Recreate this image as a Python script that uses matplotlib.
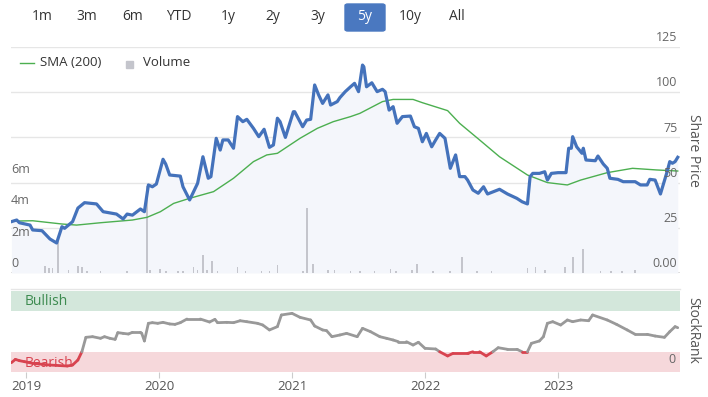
import numpy as np
import matplotlib
matplotlib.use("Agg")
import matplotlib.pyplot as plt
from matplotlib.patches import FancyBboxPatch
from matplotlib.collections import LineCollection

plt.rcParams['font.family'] = ['Open Sans', 'DejaVu Sans']

# share price (decimal year, price)
price_t = [2018.89, 2018.93, 2018.95, 2019.03, 2019.05, 2019.12, 2019.18, 2019.23, 2019.27, 2019.29,
           2019.35, 2019.39, 2019.44, 2019.53, 2019.58, 2019.68, 2019.73, 2019.76, 2019.80, 2019.86,
           2019.89, 2019.92, 2019.95, 2019.98, 2020.03, 2020.05, 2020.08, 2020.16, 2020.18, 2020.23,
           2020.29, 2020.33, 2020.37, 2020.39, 2020.43, 2020.46, 2020.48, 2020.52, 2020.56, 2020.59,
           2020.63, 2020.66, 2020.71, 2020.75, 2020.79, 2020.83, 2020.86, 2020.89, 2020.91, 2020.95,
           2021.01, 2021.02, 2021.08, 2021.11, 2021.14, 2021.17, 2021.20, 2021.23, 2021.27, 2021.29,
           2021.34, 2021.36, 2021.40, 2021.44, 2021.47, 2021.50, 2021.53, 2021.54, 2021.56, 2021.60,
           2021.64, 2021.68, 2021.70, 2021.73, 2021.76, 2021.79, 2021.83, 2021.89, 2021.92, 2021.95,
           2021.98, 2022.01, 2022.05, 2022.08, 2022.11, 2022.15, 2022.19, 2022.23, 2022.26, 2022.30,
           2022.32, 2022.36, 2022.40, 2022.44, 2022.47, 2022.56, 2022.62, 2022.69, 2022.73, 2022.77,
           2022.79, 2022.81, 2022.86, 2022.90, 2022.92, 2022.95, 2023.00, 2023.06, 2023.08, 2023.10,
           2023.11, 2023.14, 2023.18, 2023.19, 2023.21, 2023.28, 2023.30, 2023.34, 2023.37, 2023.39,
           2023.45, 2023.49, 2023.58, 2023.62, 2023.67, 2023.69, 2023.73, 2023.77, 2023.82, 2023.84,
           2023.86, 2023.88, 2023.90]
price = [28.4, 29.3, 27.8, 26.5, 23.8, 23.4, 18.8, 16.6, 25.6, 24.7,
         28.4, 35.9, 38.9, 38.2, 33.9, 32.6, 29.9, 32.6, 32.0, 35.4,
         33.9, 48.7, 47.7, 49.2, 62.9, 60.3, 54.2, 53.6, 47.7, 40.4,
         49.6, 64.3, 52.4, 53.3, 74.5, 68.0, 73.6, 73.6, 69.0, 86.5,
         83.7, 85.0, 80.0, 75.4, 79.5, 69.5, 70.8, 85.6, 83.7, 75.0,
         89.2, 89.2, 80.9, 84.6, 85.0, 104.0, 98.5, 93.8, 98.5, 92.9,
         94.8, 97.0, 100.3, 103.0, 104.9, 100.3, 115.0, 114.0, 103.0, 105.2,
         100.3, 101.6, 100.3, 90.1, 92.0, 82.8, 86.5, 86.8, 80.9, 80.0,
         72.6, 77.2, 69.8, 73.6, 77.2, 74.5, 57.9, 65.3, 53.3, 53.3,
         51.4, 45.9, 44.1, 47.7, 43.7, 46.3, 43.7, 41.3, 39.4, 38.2,
         53.3, 55.1, 55.1, 56.0, 51.4, 55.1, 55.5, 55.5, 69.0, 69.0,
         75.4, 69.8, 66.2, 69.0, 62.5, 62.1, 64.7, 60.3, 57.9, 52.4,
         51.8, 50.5, 50.5, 48.7, 48.7, 51.8, 51.4, 43.7, 56.0, 61.6,
         60.7, 61.6, 64.0]

# SMA (200)
sma_t = [2018.89, 2019.05, 2019.27, 2019.38, 2019.56, 2019.80, 2019.91, 2020.01, 2020.11, 2020.23,
         2020.41, 2020.56, 2020.71, 2020.81, 2020.89, 2021.06, 2021.19, 2021.31, 2021.44, 2021.51,
         2021.68, 2021.76, 2021.91, 2021.98, 2022.17, 2022.26, 2022.41, 2022.56, 2022.77, 2022.92,
         2023.07, 2023.17, 2023.37, 2023.56, 2023.74, 2023.90]
sma = [28.7, 28.9, 27.1, 26.5, 27.8, 29.3, 30.8, 33.9, 38.5, 41.3,
       45.0, 52.4, 61.6, 65.3, 66.2, 74.5, 80.0, 83.7, 86.5, 88.3,
       94.8, 96.0, 96.0, 94.2, 89.8, 82.8, 73.6, 64.3, 54.2, 50.0,
       48.7, 51.4, 55.5, 57.9, 57.0, 56.4]

# volume (millions)
vol_t = [2019.14, 2019.17, 2019.20, 2019.24, 2019.32, 2019.39, 2019.42, 2019.46, 2019.56, 2019.76,
         2019.91, 2019.93, 2020.01, 2020.05, 2020.14, 2020.18, 2020.26, 2020.29, 2020.33, 2020.36,
         2020.40, 2020.44, 2020.59, 2020.65, 2020.77, 2020.83, 2020.89, 2021.08, 2021.11, 2021.16,
         2021.27, 2021.32, 2021.44, 2021.51, 2021.62, 2021.74, 2021.78, 2021.90, 2021.94, 2022.06,
         2022.19, 2022.28, 2022.39, 2022.50, 2022.77, 2022.83, 2022.90, 2023.05, 2023.11, 2023.19,
         2023.32, 2023.40, 2023.48, 2023.58]
vol = [0.45, 0.3, 0.3, 2.1, 0.2, 0.45, 0.35, 0.15, 0.1, 0.1,
       5.5, 0.2, 0.25, 0.15, 0.1, 0.1, 0.35, 0.2, 1.15, 0.2,
       0.75, 0.1, 0.35, 0.15, 0.15, 0.15, 0.5, 0.1, 4.1, 0.6,
       0.2, 0.2, 0.15, 0.15, 0.15, 0.25, 0.15, 0.2, 0.6, 0.1,
       0.1, 1.0, 0.1, 0.1, 0.3, 0.4, 0.2, 0.35, 1.0, 1.55,
       0.1, 0.1, 0.1, 0.2]

# StockRank
rank_t = [2018.89, 2018.92, 2018.95, 2018.99, 2019.05, 2019.18, 2019.31, 2019.35, 2019.39, 2019.42,
          2019.45, 2019.50, 2019.56, 2019.59, 2019.63, 2019.67, 2019.69, 2019.73, 2019.77, 2019.80,
          2019.86, 2019.87, 2019.89, 2019.92, 2019.95, 2019.99, 2020.03, 2020.08, 2020.12, 2020.16,
          2020.21, 2020.31, 2020.38, 2020.42, 2020.44, 2020.51, 2020.56, 2020.61, 2020.66, 2020.74,
          2020.78, 2020.83, 2020.89, 2020.92, 2021.00, 2021.06, 2021.14, 2021.17, 2021.23, 2021.26,
          2021.30, 2021.36, 2021.41, 2021.49, 2021.53, 2021.59, 2021.66, 2021.71, 2021.76, 2021.80,
          2021.86, 2021.91, 2021.95, 2022.00, 2022.08, 2022.11, 2022.17, 2022.21, 2022.32, 2022.36,
          2022.41, 2022.46, 2022.51, 2022.55, 2022.62, 2022.69, 2022.73, 2022.77, 2022.80, 2022.86,
          2022.89, 2022.92, 2022.96, 2023.02, 2023.07, 2023.11, 2023.17, 2023.23, 2023.26, 2023.37,
          2023.44, 2023.52, 2023.58, 2023.67, 2023.73, 2023.80, 2023.84, 2023.88, 2023.90]
rank = [11.5, 15.6, 14.0, 12.7, 10.7, 8.6, 7.4, 8.6, 14.8, 25.0,
        42.8, 43.6, 41.6, 43.6, 41.6, 40.3, 48.6, 47.7, 46.9, 49.0,
        49.0, 47.7, 38.3, 60.1, 60.9, 60.1, 61.3, 59.3, 58.8, 60.9,
        65.4, 65.4, 61.7, 65.0, 60.9, 61.3, 60.9, 63.3, 62.1, 60.1,
        58.0, 51.9, 56.0, 70.4, 72.4, 67.5, 64.2, 56.8, 51.9, 51.0,
        43.6, 45.7, 47.7, 43.6, 53.9, 49.8, 43.6, 41.6, 39.5, 37.4,
        37.4, 33.3, 36.7, 29.2, 28.4, 25.0, 19.8, 23.0, 23.0, 25.0,
        25.0, 19.8, 25.0, 30.0, 28.0, 28.0, 25.0, 25.0, 35.4, 38.3,
        43.6, 60.1, 62.1, 58.0, 64.2, 62.1, 64.2, 63.3, 70.4, 64.2,
        58.8, 51.9, 46.5, 46.5, 44.4, 42.8, 49.8, 56.0, 54.7]

years = [2019, 2020, 2021, 2022, 2023]
buttons = ["1m", "3m", "6m", "YTD", "1y", "2y", "3y", "5y", "10y", "All"]
button_x = [42, 87, 133, 179, 228, 273, 318, 365, 410, 457]

W, H = 708, 397
fig = plt.figure(figsize=(W / 100, H / 100), dpi=100)


def fx(x):
    return x / W


def fy(y):
    return 1 - y / H


x0, x1 = 2018.887, 2023.917
grey_txt = '#666666'

# main panel
rect = [fx(11), fy(273), fx(680) - fx(11), fy(47) - fy(273)]
ax = fig.add_axes(rect)
ax.set_xlim(x0, x1)
ax.set_ylim(0, 125)
ax.fill_between(price_t, price, 0, color='#f4f6fb', lw=0)
for v in [25, 50, 75, 100, 125]:
    ax.axhline(v, color='#e6e6e6', lw=1, zorder=0)
ax.axhline(0, color='#d8d8d8', lw=1.2, zorder=0)
ax.axis('off')

axv = fig.add_axes(rect)
axv.set_xlim(x0, x1)
axv.set_ylim(0, 14.35)
axv.bar(vol_t, vol, width=0.013, color='#c4c5cc', lw=0)
axv.axis('off')

axl = fig.add_axes(rect)
axl.set_xlim(x0, x1)
axl.set_ylim(0, 125)
axl.plot(sma_t, sma, color='#4caf50', lw=1)
axl.plot(price_t, price, color='#4472bb', lw=2.3, solid_joinstyle='round')
axl.axis('off')

for v, lab in zip([0, 25, 50, 75, 100, 125], ['0.00', '25', '50', '75', '100', '125']):
    axl.annotate(lab, (1, v), xycoords=('axes fraction', 'data'), xytext=(-2, 2),
                 textcoords='offset points', ha='right', va='bottom', fontsize=9, color=grey_txt)
for v, lab in zip([0, 2, 4, 6], ['0', '2m', '4m', '6m']):
    axv.annotate(lab, (0, v), xycoords=('axes fraction', 'data'), xytext=(0, 2),
                 textcoords='offset points', ha='left', va='bottom', fontsize=9, color=grey_txt)

# legend
fig.add_artist(plt.Line2D([fx(20), fx(34)], [fy(63), fy(63)], color='#4caf50', lw=1))
fig.text(fx(40), fy(63), "SMA (200)", fontsize=9.5, color='#333333', va='center')
fig.patches.append(plt.Rectangle((fx(126), fy(68)), fx(7), fy(61) - fy(68), color='#c4c5cc',
                                 transform=fig.transFigure, figure=fig))
fig.text(fx(143), fy(63), "Volume", fontsize=9.5, color='#333333', va='center')

fig.text(fx(693), fy(150), "Share Price", rotation=-90, fontsize=10, color='#555555',
         ha='center', va='center')

# range buttons
fig.patches.append(FancyBboxPatch((fx(345), fy(31)), fx(40), fy(4) - fy(31),
                                  boxstyle='round,pad=0,rounding_size=0.004',
                                  color='#4a78c0', transform=fig.transFigure, figure=fig))
for b, bx in zip(buttons, button_x):
    fig.text(fx(bx), fy(17), b, fontsize=10, ha='center', va='center',
             color='white' if b == '5y' else '#333333')

# StockRank panel
axr = fig.add_axes([fx(11), fy(372), fx(680) - fx(11), fy(291) - fy(372)])
axr.set_xlim(x0, x1)
axr.set_ylim(0, 100)
axr.axhspan(75, 100, color='#d3e7db', lw=0)
axr.axhspan(0, 25, color='#f6d8db', lw=0)
rt = np.array(rank_t)
rv = np.array(rank)
segs = np.stack([np.column_stack([rt[:-1], rv[:-1]]), np.column_stack([rt[1:], rv[1:]])], axis=1)
cols = ['#d8434f' if max(a, b) <= 25.5 else '#999999' for a, b in zip(rv[:-1], rv[1:])]
axr.add_collection(LineCollection(segs, colors=cols, lw=2, capstyle='round'))
axr.text(x0 + 0.1, 87.5, "Bullish", color='#3d8b50', fontsize=10, va='center')
axr.text(x0 + 0.1, 11, "Bearish", color='#d8434f', fontsize=10, va='center')
axr.annotate('0', (1, 0), xycoords='axes fraction', xytext=(-3, 4), textcoords='offset points',
             ha='right', va='bottom', fontsize=9, color=grey_txt)
for s in axr.spines.values():
    s.set_visible(False)
axr.set_yticks([])
axr.set_xticks(years)
axr.set_xticklabels([str(y) for y in years])
axr.tick_params(axis='x', length=4.5, color='#cccccc', labelsize=9.5, labelcolor='#555555', pad=1)
fig.add_artist(plt.Line2D([fx(11), fx(680)], [fy(289), fy(289)], color='#e6e6e6', lw=1))

fig.text(fx(693), fy(330), "StockRank", rotation=-90, fontsize=10, color='#555555',
         ha='center', va='center')

fig.savefig("out.png", dpi=100)
